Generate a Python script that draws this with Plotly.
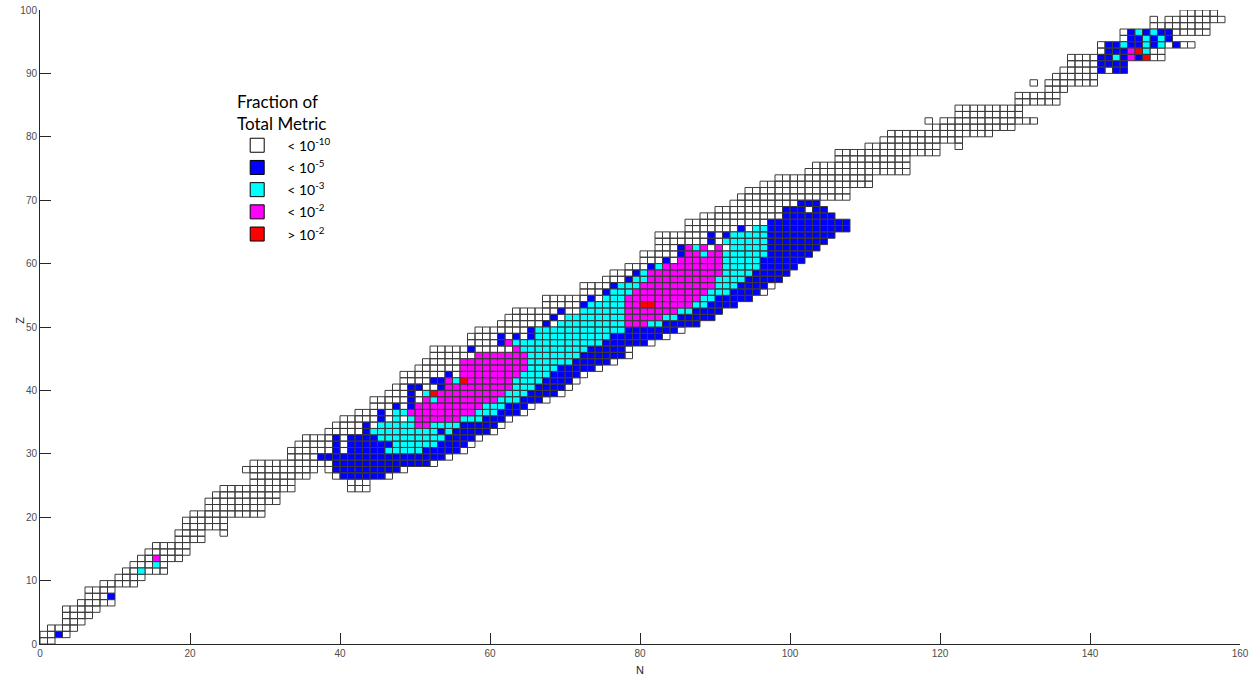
import plotly.graph_objects as go

# Each row: proton number Z, first neutron number N of the row, and one code per cell
# codes: '.' = no cell, 'w' < 1e-10, 'b' < 1e-5, 'c' < 1e-3, 'm' < 1e-2, 'r' > 1e-2
Z_ROWS = list(range(0, 100))
N_START = [
    0, 0, 1, 3, 3, 3, 5, 6, 6, 8,
    10, 11, 12, 13, 14, 15, 18, 18, 19, 19,
    20, 22, 22, 23, 24, 28, 28, 27, 28, 33,
    33, 34, 35, 38, 39, 40, 42, 44, 44, 46,
    47, 48, 48, 50, 51, 52, 52, 57, 57, 58,
    61, 62, 63, 67, 67, 72, 72, 75, 76, 78,
    80, 80, 82, 82, 82, 86, 86, 88, 90, 92,
    93, 94, 96, 98, 102, 103, 106, 106, 110, 112,
    113, 119, 118, 122, 122, 130, 130, 134, 132, 135,
    136, 137, 137, 141, 141, 144, 144, 148, 148, 152,
]
ROW_CODES = [
    "ww", "wwbw", "wwww", "www", "wwww", "wwwww", "wwwww", "wwwb", "wwww", "wwwww",
    "wwww", "wwcwww", "wwwcw", "wwmwww", "wwwwww", "wwwww", "wwww", "wwww..w", "wwwwww", "wwwwww",
    "wwwwwwwwww", "wwwwwwww", "wwwwwwwwww", "wwwwwwwww", "wwwwwwwwww.......www",
    # Z = 25 .. 29
    "wwwwww.......www",
    "wwwwwwww...wbbbbbbw",
    "wwwwwwwwww.wbbbbbbbbbw",
    "wwwwwwwwwwwbbbbbbbbbbbbbw",
    "wwwwbbbbbbbbbbbbbbbbbw",
    # Z = 30 .. 34
    "wwwwwwbwbbbbbcccccbbbbbw",
    "wwwwwbwbbbbbbccccccbbbbw",
    "wwwwbwbbbbcccccccccbbbbw",
    "wwwwwbcccccccccbcbbbbbw",
    "wwwwbwcccccmmccccbbbbbw",
    # Z = 35 .. 39
    "wwwwwbwcwcmmmmmmcccbbbw",
    "wwwbwccmmmmmmmmmcccbbbw",
    "wwwbwbmmmmmmmmmcccbbbw",
    "wwwwwbwmcmmmmmmmmcccbbbw",
    "wwwbwcrmmmmmmmmmcccbbbbw",
    # Z = 40 .. 44
    "wwbbwwbmmmmmmmmmcccbbbbw",
    "wwwwbbmcrmmmmmmccccbbbbw",
    "wwwwwwbwmmmmmmmmccccbbbbw",
    "wwwwwwmmmmmmmmmccccbbbbbw",
    "wwwwwmmmmmmmmmccccccbbbbbw",
    # Z = 45 .. 49
    "wwwwwwmmmmmmmcccccccbbbbbbw",
    "wwwwwbwwwwwmcccccccccbbbbbw",
    "wwwwbmccccccccccccbbbbbbw",
    "wwwwbwbwbccccccccccbbbbbbbw",
    "wwwwwwwbccccccccccccbbbbbbbw",
    # Z = 50 .. 54
    "wwwwwwbwcccccccccmmmccbbbbb",
    "wwwwwwbwccccccccmmmmmccbbbbb",
    "wwwwwwbwwccccccmmmmmmmccbbbb",
    "wwwwwbcccccmmrrmmmmmccbbbb",
    "wwwwwwbwcccmmmmmmmmmmccbbbbb",
    # Z = 55 .. 59
    "wwwbcccmmmmmmmmmmcccbbbbw",
    "wwwwbcccmmmmmmmmmmcccbbbbw",
    "wwwbccmmmmmmmmmccccbbbbb",
    "wwwbcmmmmmmmmmmccccbbbbb",
    "wwwbcmmmmmmmmcccccbbbbb",
    # Z = 60 .. 64
    "wwwbwmmmmmmcccccbbbbbb",
    "wwwwwbmmcmmccccccbbbbbb",
    "wwwbmcmwmwcccccbbbbbbb",
    "wwwwwwwbwccccccbbbbbbbb",
    "wwwwwwwbwbcccccbbbbbbbbb",
    # Z = 65 .. 69
    "wwwwwwwbwccbbbbbbbbbbb",
    "wwwwwwwwwwwbbbbbbbbbbb",
    "wwwwwwwwwwwbbbbbbb",
    "wwwwwwwwwbbbwbb",
    "wwwwwwwwwbbb",
    # Z = 70 .. 79
    "wwwwwwwwwwwwwww", "wwwwwwwwwwwwww", "wwwwwwwwwwwwwww", "wwwwwwwwwwwww", "wwwwwwwwwwwwww",
    "wwwwwwwwwwwww", "wwwwwwwwww", "wwwwwwwwwwwwww", "wwwwwwwwww..w", "wwwwwwwwwww",
    # Z = 80 .. 89
    "wwwwwwwwwwwwww", "wwwwwwwwwww", "w.wwwwwwwwwwwww", "wwwwwwwww", "wwwwwwwww",
    "wwwwww", "wwwwww", "www", "w.wwwwwww", "wwwwww",
    # Z = 90 .. 99
    "wwwwwbwbb", "wwwwbbbb", "wwwwbbcbmbrww", "wbbbmrcww", "wbbcbbcbcwbww",
    "wbbcbcb", "wbcbcbbwwwww", "wwwwwwww", "w.wwwwwwww", "wwwww",
]

CATEGORY_CODES = ["w", "b", "c", "m", "r"]
CATEGORY_LABELS = ["< 10<sup>-10</sup>", "< 10<sup>-5</sup>", "< 10<sup>-3</sup>",
                   "< 10<sup>-2</sup>", "> 10<sup>-2</sup>"]
CATEGORY_COLORS = ["#ffffff", "#0000ff", "#00ffff", "#ff00ff", "#ff0000"]

X_TICKS = list(range(0, 161, 20))
Y_TICKS = list(range(0, 101, 10))
X_TITLE = "N"
Y_TITLE = "Z"
LEGEND_TITLE = "Fraction of<br>Total Metric"

xs = {c: [] for c in CATEGORY_CODES}
ys = {c: [] for c in CATEGORY_CODES}
for z, n0, codes in zip(Z_ROWS, N_START, ROW_CODES):
    for i, ch in enumerate(codes):
        if ch not in xs:
            continue
        n = n0 + i
        xs[ch] += [n, n + 1, n + 1, n, n, None]
        ys[ch] += [z, z, z + 1, z + 1, z, None]

fig = go.Figure()
for code, color in zip(CATEGORY_CODES, CATEGORY_COLORS):
    fig.add_trace(go.Scatter(
        x=xs[code], y=ys[code], mode="lines", fill="toself",
        fillcolor=color, line=dict(color="#3a3a3a", width=1),
        showlegend=False, hoverinfo="skip"))

for i, (label, color) in enumerate(zip(CATEGORY_LABELS, CATEGORY_COLORS)):
    fig.add_trace(go.Scatter(
        x=[None], y=[None], mode="markers", name=label,
        legendgroup=f"g{i}",
        marker=dict(symbol="square", size=14, color=color,
                    line=dict(color="#000000", width=1))))

tick_font = dict(family="Liberation Sans, Arial, sans-serif", size=10, color="#4d4d4d")
axis_common = dict(
    showgrid=False, zeroline=False, showline=True, linecolor="#262626",
    linewidth=1, ticks="inside", ticklen=11, tickcolor="#262626",
    tickfont=tick_font, mirror=False, automargin=False, ticklabeloverflow="allow",
)

fig.update_layout(
    width=1255, height=676,
    margin=dict(l=40, r=15, t=10, b=32),
    plot_bgcolor="white", paper_bgcolor="white",
    xaxis=dict(range=[0, 160], tickvals=X_TICKS, **axis_common),
    yaxis=dict(range=[0, 100], tickvals=Y_TICKS, **axis_common),
    legend=dict(
        x=0.156, y=0.881, xanchor="left", yanchor="top",
        bgcolor="rgba(0,0,0,0)", borderwidth=0,
        title=dict(text=LEGEND_TITLE, side="top center",
                   font=dict(family="Lato, Open Sans, sans-serif", size=17, color="#000000")),
        font=dict(family="Lato, Open Sans, sans-serif", size=14, color="#000000"),
        itemwidth=50, tracegroupgap=1,
    ),
    annotations=[
        dict(text=X_TITLE, xref="paper", yref="paper", x=0.5, y=-0.041,
             xanchor="center", yanchor="middle", showarrow=False,
             font=dict(family="Liberation Sans, Arial, sans-serif", size=11, color="#262626")),
        dict(text=Y_TITLE, xref="paper", yref="paper", x=-0.017, y=0.511,
             xanchor="center", yanchor="middle", showarrow=False, textangle=-90,
             font=dict(family="Liberation Sans, Arial, sans-serif", size=11, color="#262626")),
    ],
)

fig.write_html(
    "out.html",
    config={"displayModeBar": False},
    post_script="document.body.style.margin='0';document.body.style.overflow='hidden';",
)
